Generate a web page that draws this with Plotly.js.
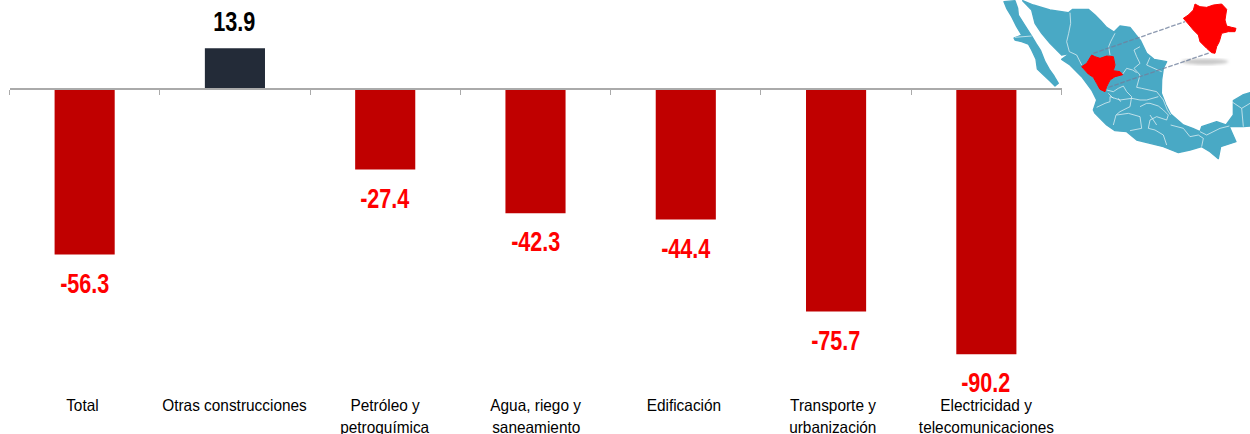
<!DOCTYPE html>
<html><head><meta charset="utf-8">
<script src="https://cdn.plot.ly/plotly-3.0.1.min.js"></script>
<style>html,body{margin:0;padding:0;background:#fff;overflow:hidden}</style>
</head><body><div id="chart" style="width:1250px;height:434px"></div>
<script>
const categories = ['Total','Otras construcciones','Petróleo y','Agua, riego y','Edificación','Transporte y','Electricidad y'];
const categoryLines2 = ['','','petroquímica','saneamiento','','urbanización','telecomunicaciones'];
const values = [-56.3,13.9,-27.4,-42.3,-44.4,-75.7,-90.2];
const POS='#232b38', NEG='#c00000';
const labelNudge = [-2,0,0,0,-2,-3,0];

const mapSvg = `<svg xmlns="http://www.w3.org/2000/svg" width="900" height="510" viewBox="0 0 900 510">
<defs><filter id="b"><feGaussianBlur stdDeviation="5"/></filter><filter id="s"><feGaussianBlur stdDeviation="0.8"/></filter></defs>
<ellipse cx="765" cy="185" rx="70" ry="9" fill="#c9c9c9" filter="url(#b)"/>
<g filter="url(#s)">
<g fill="#4aa9c5" stroke="#4aa9c5" stroke-width="4" stroke-linejoin="round">
<path d="M162,5 L195,2 L203,25 L205,45 L222,72 L245,108 L258,130 L272,152 L285,185 L298,208 L312,228 L325,250 L315,258 L300,243 L288,232 L262,207 L258,178 L245,150 L235,132 L215,125 L195,120 L192,114 L215,105 L200,80 L185,50 L170,25Z"/>
<path d="M218,2 L250,15 L300,30 L355,38 L368,28 L415,28 L435,45 L452,62 L470,82 L492,96 L510,78 L540,82 L558,105 L572,122 L590,160 L612,178 L650,185 L640,205 L635,240 L634,280 L648,315 L662,342 L700,375 L728,385 L750,395 L755,380 L800,365 L828,375 L850,345 L850,302 L878,285 L900,278 L900,378 L880,380 L838,380 L858,425 L812,440 L805,476 L780,455 L755,440 L720,450 L685,458 L640,440 L600,430 L560,420 L530,395 L495,392 L470,375 L435,340 L430,330 L440,300 L425,270 L395,230 L360,195 L335,178 L360,160 L335,165 L300,130 L275,100 L255,70 L245,30Z"/>
</g>
<g fill="none" stroke="#e6f2f6" stroke-width="2.2" stroke-linejoin="round">
<path d="M195,112 L245,108"/>
<path d="M360,38 L362,70 L356,100 L350,125 L358,155 L380,165 L395,195"/>
<path d="M495,100 L482,125 L476,140 L480,165"/>
<path d="M570,140 L552,150 L560,170 L570,190 L552,205 L570,225 L560,262 L575,265"/>
<path d="M600,172 L590,195 L612,205 L635,215"/>
<path d="M518,222 L530,205 L548,210 L560,218"/>
<path d="M470,270 L490,275 L505,265 L520,258 L530,275 L545,290 L540,320 L510,335 L498,345 L490,375"/>
<path d="M440,322 L465,310 L480,305 L480,290 L510,300 L545,295 L570,300 L590,300 L625,290"/>
<path d="M575,265 L620,275 L640,300 L652,330 L662,345"/>
<path d="M500,345 L535,340 L570,350 L575,385 L540,392"/>
<path d="M570,320 L590,310 L600,310 L625,318 L640,330 L655,345 L650,360 L620,350 L600,360 L595,385 L615,390 L640,405 L650,435"/>
<path d="M662,375 L700,385 L720,410 L745,405 L760,415 L755,440"/>
<path d="M750,395 L770,405 L810,385 L838,378"/>
<path d="M845,305 L875,325 L900,310 M875,325 L880,380"/>
<path d="M600,345 L620,375 M505,295 L512,305 M475,280 L490,295"/>
</g>
<path fill="#ff0000" stroke="#ff0000" stroke-width="3" stroke-linejoin="round" d="M395,200 L410,190 L425,165 L435,170 L450,175 L470,168 L490,170 L495,195 L490,212 L510,215 L518,224 L495,230 L480,240 L470,260 L465,275 L450,268 L440,250 L430,232 L415,222Z"/>
<path fill="#ff0000" stroke="#ff0000" stroke-width="3" stroke-linejoin="round" d="M700,55 L715,45 L730,30 L735,12 L750,20 L770,22 L790,15 L815,12 L830,28 L825,60 L830,78 L845,82 L858,85 L855,95 L835,95 L815,100 L808,125 L800,140 L795,160 L785,158 L770,145 L750,125 L745,105 L730,90 L715,72Z"/>
<g stroke="#6f7f9c" stroke-opacity=".8" stroke-width="4" stroke-dasharray="14 5" fill="none">
<path d="M430,160 L705,65"/><path d="M475,262 L780,158"/></g>
</g>
</svg>`;

const labelFont = {family:'"Liberation Sans",Arial,sans-serif',size:27,color:'#000'};
const catFont = {family:'"Liberation Sans",Arial,sans-serif',size:16.5,color:'#000'};
const annotations = [];
values.forEach((v,i)=>{
  annotations.push({x:i,y:v,xref:'x',yref:'y',text:'<b>'+v.toFixed(1)+'</b>',showarrow:false,
    yanchor:v<0?'top':'bottom',yshift:v<0?-12:9,
    font:Object.assign({},labelFont,{color:v<0?'#ff0000':'#000'})});
  annotations.push({x:i,y:1-393.5/434,xref:'x',yref:'paper',xshift:labelNudge[i],
    text:categories[i],showarrow:false,yanchor:'top',font:catFont});
  if(categoryLines2[i]) annotations.push({x:i,y:1-416/434,xref:'x',yref:'paper',xshift:labelNudge[i],
    text:categoryLines2[i],showarrow:false,yanchor:'top',font:catFont});
});

Plotly.newPlot('chart',[{
  type:'bar',x:[0,1,2,3,4,5,6],y:values,width:0.4,
  marker:{color:values.map(v=>v<0?NEG:POS)},hoverinfo:'skip'
}],{
  width:1250,height:434,margin:{l:0,r:0,t:0,b:0,pad:0},
  paper_bgcolor:'#fff',plot_bgcolor:'#fff',showlegend:false,
  xaxis:{domain:[9.5/1250,1061.5/1250],range:[-0.5,6.5],anchor:'free',position:345.8/434,
    tickmode:'array',tickvals:[-0.5,0.5,1.5,2.5,3.5,4.5,5.5,6.5],showticklabels:false,
    ticks:'outside',ticklen:5,tickwidth:1,tickcolor:'#aaaaaa',
    showline:true,linecolor:'#aaaaaa',linewidth:1.5,showgrid:false,zeroline:false},
  yaxis:{domain:[0,1],range:[-345/2.94,89/2.94],visible:false,showgrid:false,zeroline:false},
  annotations,
  images:[{source:'data:image/svg+xml;charset=utf-8,'+encodeURIComponent(mapSvg),
    xref:'paper',yref:'paper',x:950/1250,y:1,sizex:300/1250,sizey:170/434,
    xanchor:'left',yanchor:'top',sizing:'stretch',layer:'above'}]
},{displayModeBar:false,staticPlot:true}).then(gd=>{
  // The reference uses a slightly condensed face: narrow each text to the same width.
  gd.querySelectorAll('.annotation-text').forEach(t=>{
    const isValue=/^-?\d+\.\d$/.test(t.textContent.trim());
    t.setAttribute('textLength',(t.getComputedTextLength()*(isValue?0.8:0.933)).toFixed(1));
    t.setAttribute('lengthAdjust','spacingAndGlyphs');
  });
});
</script></body></html>
